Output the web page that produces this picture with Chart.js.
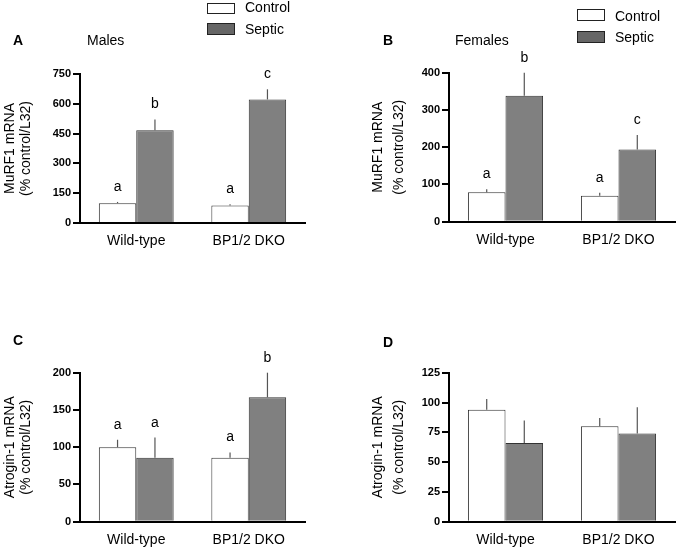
<!DOCTYPE html>
<html>
<head>
<meta charset="utf-8">
<script src="https://cdn.jsdelivr.net/npm/chart.js"></script>
<style>
  body { margin: 0; background: #fff; }
  #page { position: relative; width: 677px; height: 549px; overflow: hidden; font-family: "Liberation Sans", Arial, sans-serif; color: #000; }
  canvas { position: absolute; }
  .lbl { position: absolute; font-size: 14px; line-height: 16px; white-space: nowrap; }
  .bold { font-weight: bold; }
  .box { position: absolute; box-sizing: border-box; border: 1.5px solid #222; }
</style>
</head>
<body>
<div id="page">
  <canvas id="chartA" width="338" height="270" style="left:0;top:0"></canvas>
  <canvas id="chartB" width="337" height="270" style="left:340px;top:0"></canvas>
  <canvas id="chartC" width="338" height="249" style="left:0;top:300px"></canvas>
  <canvas id="chartD" width="337" height="249" style="left:340px;top:300px"></canvas>

  <div class="lbl bold" style="left:13px;top:32px">A</div>
  <div class="lbl" style="left:87px;top:32px">Males</div>
  <div class="lbl bold" style="left:383px;top:32px">B</div>
  <div class="lbl" style="left:455px;top:32px">Females</div>
  <div class="lbl bold" style="left:13px;top:332px">C</div>
  <div class="lbl bold" style="left:383px;top:334px">D</div>

  <div class="box" style="left:207px;top:3px;width:28px;height:11px;background:#fff"></div>
  <div class="lbl" style="left:245px;top:-1px">Control</div>
  <div class="box" style="left:207px;top:23px;width:28px;height:12px;background:#666"></div>
  <div class="lbl" style="left:245px;top:21px">Septic</div>

  <div class="box" style="left:577px;top:9px;width:28px;height:12px;background:#fff"></div>
  <div class="lbl" style="left:615px;top:8px">Control</div>
  <div class="box" style="left:577px;top:31px;width:28px;height:12px;background:#666"></div>
  <div class="lbl" style="left:615px;top:29px">Septic</div>
</div>

<script>
const categories = ['Wild-type', 'BP1/2 DKO'];

// A - MuRF1, males
const murfMaleControl = [100, 88];
const murfMaleControlErr = [6, 6];
const murfMaleSeptic = [467, 622];
const murfMaleSepticErr = [54, 51];
const murfMaleControlLetters = ['a', 'a'];
const murfMaleSepticLetters = ['b', 'c'];
const murfMaleTicks = [0, 150, 300, 450, 600, 750];

// B - MuRF1, females
const murfFemaleControl = [79, 70];
const murfFemaleControlErr = [8, 8];
const murfFemaleSeptic = [338, 194];
const murfFemaleSepticErr = [62, 39];
const murfFemaleControlLetters = ['a', 'a'];
const murfFemaleSepticLetters = ['b', 'c'];
const murfFemaleTicks = [0, 100, 200, 300, 400];

// C - Atrogin-1, males
const atroMaleControl = [100, 86];
const atroMaleControlErr = [10, 7];
const atroMaleSeptic = [86, 167];
const atroMaleSepticErr = [27, 33];
const atroMaleControlLetters = ['a', 'a'];
const atroMaleSepticLetters = ['a', 'b'];
const atroMaleTicks = [0, 50, 100, 150, 200];

// D - Atrogin-1, females
const atroFemaleControl = [94, 80];
const atroFemaleControlErr = [9, 7];
const atroFemaleSeptic = [66, 74];
const atroFemaleSepticErr = [19, 22];
const atroFemaleTicks = [0, 25, 50, 75, 100, 125];

const FONT = '"Liberation Sans", Arial, sans-serif';

// error bars (upward only) and significance letters
const errorBarPlugin = {
  id: 'errorBars',
  afterDatasetsDraw(chart) {
    const ctx = chart.ctx;
    const yScale = chart.scales.y;
    chart.data.datasets.forEach((ds, i) => {
      const meta = chart.getDatasetMeta(i);
      meta.data.forEach((bar, j) => {
        const top = yScale.getPixelForValue(ds.data[j] + ds.errors[j]);
        ctx.save();
        ctx.strokeStyle = '#555';
        ctx.lineWidth = 1.2;
        ctx.beginPath();
        ctx.moveTo(bar.x, bar.y);
        ctx.lineTo(bar.x, top);
        ctx.stroke();
        if (ds.letters && ds.letters[j]) {
          ctx.fillStyle = '#000';
          ctx.font = '14px ' + FONT;
          ctx.textAlign = 'center';
          ctx.textBaseline = 'alphabetic';
          ctx.fillText(ds.letters[j], bar.x, top - 11);
        }
        ctx.restore();
      });
    });
  }
};

function makePanel(id, p) {
  const ctx = document.getElementById(id).getContext('2d');
  new Chart(ctx, {
    type: 'bar',
    data: {
      labels: categories,
      datasets: [{
        label: 'Control',
        data: p.control,
        errors: p.controlErr,
        letters: p.controlLetters,
        backgroundColor: '#ffffff',
        borderColor: '#333',
        borderWidth: 1,
        categoryPercentage: 0.665,
        barPercentage: 1
      }, {
        label: 'Septic',
        data: p.septic,
        errors: p.septicErr,
        letters: p.septicLetters,
        backgroundColor: '#808080',
        borderColor: '#333',
        borderWidth: 1,
        categoryPercentage: 0.665,
        barPercentage: 1
      }]
    },
    options: {
      responsive: false,
      animation: false,
      layout: { padding: { top: p.top, right: p.right, left: 0, bottom: 0 } },
      plugins: { legend: { display: false }, tooltip: { enabled: false } },
      scales: {
        x: {
          offset: true,
          grid: { display: false },
          border: { display: true, color: '#000', width: 2 },
          ticks: { color: '#000', font: { size: 14, family: FONT }, padding: 2, maxRotation: 0 },
          afterFit: s => { s.height = p.xHeight; }
        },
        y: {
          min: p.ticks[0],
          max: p.ticks[p.ticks.length - 1],
          afterBuildTicks: s => { s.ticks = p.ticks.map(v => ({ value: v })); },
          grid: { drawOnChartArea: false, drawTicks: true, tickLength: 7, color: '#000', lineWidth: 2 },
          border: { display: true, color: '#000', width: 2 },
          ticks: { color: '#000', font: { size: 11, weight: 'bold', family: FONT }, padding: 2 },
          title: {
            display: true,
            text: p.title,
            color: '#000',
            font: { size: 14, family: FONT, lineHeight: p.titleLine + 'px' },
            padding: { top: p.titlePad, bottom: 0 }
          },
          afterFit: s => { s.width = p.yWidth; }
        }
      }
    },
    plugins: [errorBarPlugin]
  });
}

makePanel('chartA', {
  control: murfMaleControl, controlErr: murfMaleControlErr, controlLetters: murfMaleControlLetters,
  septic: murfMaleSeptic, septicErr: murfMaleSepticErr, septicLetters: murfMaleSepticLetters,
  ticks: murfMaleTicks, title: ['MuRF1 mRNA', '(% control/L32)'],
  top: 74, right: 33, yWidth: 80, xHeight: 47, titleLine: 16, titlePad: 2
});

makePanel('chartB', {
  control: murfFemaleControl, controlErr: murfFemaleControlErr, controlLetters: murfFemaleControlLetters,
  septic: murfFemaleSeptic, septicErr: murfFemaleSepticErr, septicLetters: murfFemaleSepticLetters,
  ticks: murfFemaleTicks, title: ['MuRF1 mRNA', '(% control/L32)'],
  top: 72.7, right: 2, yWidth: 109, xHeight: 48.3, titleLine: 21, titlePad: 27.8
});

makePanel('chartC', {
  control: atroMaleControl, controlErr: atroMaleControlErr, controlLetters: atroMaleControlLetters,
  septic: atroMaleSeptic, septicErr: atroMaleSepticErr, septicLetters: atroMaleSepticLetters,
  ticks: atroMaleTicks, title: ['Atrogin-1 mRNA', '(% control/L32)'],
  top: 72.7, right: 33, yWidth: 80, xHeight: 27.3, titleLine: 16, titlePad: 2
});

makePanel('chartD', {
  control: atroFemaleControl, controlErr: atroFemaleControlErr,
  septic: atroFemaleSeptic, septicErr: atroFemaleSepticErr,
  ticks: atroFemaleTicks, title: ['Atrogin-1 mRNA', '(% control/L32)'],
  top: 72.7, right: 2, yWidth: 109, xHeight: 27.3, titleLine: 21, titlePad: 27.8
});
</script>
</body>
</html>
